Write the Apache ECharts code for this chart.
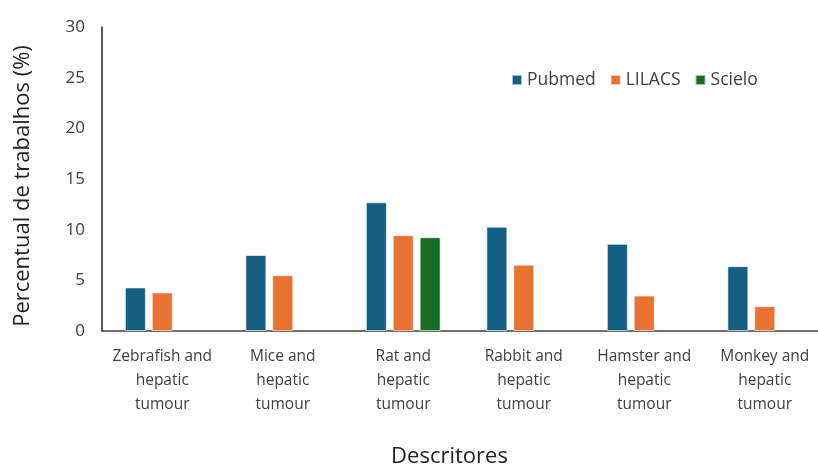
<!DOCTYPE html>
<html lang="pt">

<head>
    <meta charset="UTF-8">
    <title>Percentual de trabalhos</title>
    <style>
        html, body { margin: 0; padding: 0; background: #fff; }
    </style>
</head>

<body>

    <div id="chart" style="width: 818px; height: 467px;"></div>

    <script src="https://cdn.jsdelivr.net/npm/echarts@6/dist/echarts.min.js"></script>
    <script>
        const categories = [
            'Zebrafish and\nhepatic\ntumour',
            'Mice and\nhepatic\ntumour',
            'Rat and\nhepatic\ntumour',
            'Rabbit and\nhepatic\ntumour',
            'Hamster and\nhepatic\ntumour',
            'Monkey and\nhepatic\ntumour'
        ]
        const pubmed = [4.3, 7.5, 12.7, 10.3, 8.6, 6.4]
        const lilacs = [3.8, 5.5, 9.45, 6.55, 3.5, 2.45]
        // Scielo só tem valor em "Rat and hepatic tumour"
        const scielo = [null, null, 9.25, null, null, null]
        const yTicks = [0, 5, 10, 15, 20, 25, 30]

        const font = '"Open Sans", "Liberation Sans", sans-serif'

        const myChart = echarts.init(document.getElementById('chart'))

        function barSeries(name, data, color) {
            return {
                name: name,
                type: 'bar',
                data: data,
                barWidth: 21,
                barGap: '28%',
                itemStyle: {
                    color: color,
                    borderColor: 'rgba(255,255,255,0.6)',
                    borderWidth: 1
                }
            }
        }

        const option = {
            animation: false,
            textStyle: { fontFamily: font },
            legend: {
                top: 66,
                left: 506,
                itemWidth: 10,
                itemHeight: 10,
                itemGap: 14,
                icon: 'rect',
                textStyle: { fontSize: 17.5, color: '#404040', fontFamily: font }
            },
            grid: {
                left: 102,
                top: 27,
                width: 723,
                bottom: 136,
                containLabel: false,
                outerBoundsMode: 'none'
            },
            xAxis: {
                type: 'category',
                data: categories,
                name: 'Descritores',
                nameLocation: 'middle',
                nameGap: 115,
                nameTextStyle: { fontSize: 22, color: '#222', padding: [0, 28, 0, 0] },
                axisLine: { lineStyle: { color: '#404040', width: 1.5 } },
                axisTick: { show: false },
                axisLabel: {
                    interval: 0,
                    fontSize: 15.5,
                    lineHeight: 24,
                    color: '#404040',
                    margin: 14
                }
            },
            yAxis: {
                type: 'value',
                min: yTicks[0],
                max: yTicks[yTicks.length - 1],
                interval: 5,
                name: 'Percentual de trabalhos (%)',
                nameLocation: 'middle',
                nameGap: 68,
                nameTextStyle: { fontSize: 22, color: '#222', padding: [0, 14, 0, 0] },
                axisLine: { show: true, lineStyle: { color: '#222', width: 1.5 } },
                axisTick: { show: false },
                splitLine: { show: false },
                axisLabel: { fontSize: 17, color: '#404040', margin: 17 }
            },
            series: [
                barSeries('Pubmed', pubmed, '#156082'),
                barSeries('LILACS', lilacs, '#E97132'),
                barSeries('Scielo', scielo, '#196B24')
            ]
        }

        myChart.setOption(option)
    </script>
</body>

</html>
